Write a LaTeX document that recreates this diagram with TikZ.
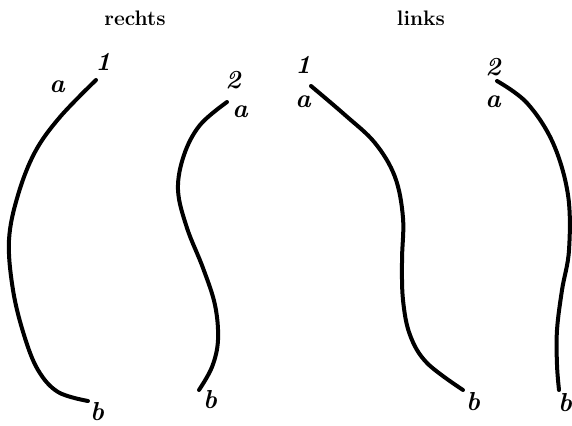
\documentclass[tikz,border=0pt]{standalone}
\begin{document}
\begin{tikzpicture}[x=1pt,y=-1pt,
  curve/.style={line width=4pt,line cap=round,line join=round},
  head/.style={font=\fontsize{21}{24}\selectfont\bfseries,inner sep=0pt},
  hand/.style={font=\fontsize{26}{28}\selectfont\bfseries\itshape,inner sep=0pt}]
\useasboundingbox[fill=white] (0,0) rectangle (572,425);
\node[head] (rechts) at (135,18) {rechts};
\node[head] (links) at (421,18) {links};
% curve 1
\draw[curve] plot[smooth,tension=0.6] coordinates {(96,80) (60,117) (35,152) (18,195) (9,240) (13,290) (24,335) (38,370) (58,392) (88,401)};
\node[hand] (c1one) at (103,62) {1};
\node[hand] (c1a) at (57,87) {a};
\node[hand] (c1b) at (97,412) {b};
% curve 2
\draw[curve] plot[smooth,tension=0.6] coordinates {(227,102) (200,125) (184,155) (178,190) (187,228) (203,268) (215,305) (218,340) (212,367) (199,390)};
\node[hand] (c2two) at (233,80) {2};
\node[hand] (c2a) at (240,112) {a};
\node[hand] (c2b) at (210,400) {b};
% curve 3
\draw[curve] plot[smooth,tension=0.6] coordinates {(311,86) (345,115) (375,143) (395,177) (403,218) (402,260) (403,300) (410,335) (427,363) (463,390)};
\node[hand] (c3one) at (303,65) {1};
\node[hand] (c3a) at (303,102) {a};
\node[hand] (c3b) at (473,402) {b};
% curve 4
\draw[curve] plot[smooth,tension=0.6] coordinates {(497,81) (527,103) (553,143) (568,195) (569,250) (562,290) (557,330) (557,365) (559,390)};
\node[hand] (c4two) at (493,67) {2};
\node[hand] (c4a) at (493,102) {a};
\node[hand] (c4b) at (565,403) {b};
\end{tikzpicture}
\end{document}
